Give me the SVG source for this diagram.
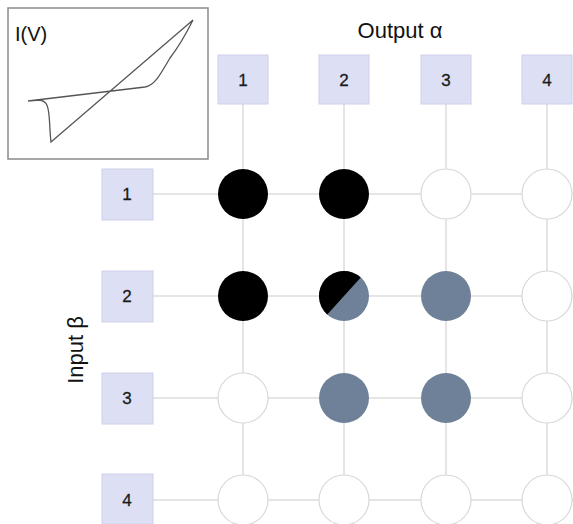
<svg xmlns="http://www.w3.org/2000/svg" width="573" height="524" viewBox="0 0 573 524">
<style>
.box{fill:#dde0f4;stroke:#cdd0e8;stroke-width:1}
.lbl{font-family:"Liberation Sans",Arial,sans-serif;font-size:17px;fill:#1a1a1a;text-anchor:middle;stroke:#1a1a1a;stroke-width:0.3}
.title{font-family:"Liberation Sans",Arial,sans-serif;font-size:22px;fill:#111;text-anchor:middle}
.grid{stroke:#dcdcdc;stroke-width:1.5;fill:none}
.off{fill:#fff;stroke:#d8d8d8;stroke-width:1.2}
.on{fill:#000}
.mid{fill:#6e8198}
</style>
<rect width="573" height="524" fill="#fff"/>
<g id="iv-plot">
<rect x="8" y="8" width="200" height="151" fill="#fff" stroke="#8a8a8a" stroke-width="1.5"/>
<text x="15" y="41" font-family="Liberation Sans,Arial,sans-serif" font-size="20" fill="#111">I(V)</text>
<path d="M28,101 L39,100 C47,101 48,106 49,115 C50,125 50,135 51,142 L193,20 C188,30 180,45 170,58 C160,75 155,85 145,87 L28,101" fill="none" stroke="#555" stroke-width="1.3"/>
</g>
<g id="connectors">
<line class="grid" x1="153" y1="194" x2="573" y2="194"/>
<line class="grid" x1="153" y1="296" x2="573" y2="296"/>
<line class="grid" x1="153" y1="398" x2="573" y2="398"/>
<line class="grid" x1="153" y1="500" x2="573" y2="500"/>
<line class="grid" x1="243" y1="104" x2="243" y2="524"/>
<line class="grid" x1="344" y1="104" x2="344" y2="524"/>
<line class="grid" x1="446" y1="104" x2="446" y2="524"/>
<line class="grid" x1="547" y1="104" x2="547" y2="524"/>
</g>
<text class="title" x="400" y="38">Output α</text>
<text class="title" transform="translate(83,350) rotate(-90)" font-size="23">Input β</text>
<g id="out1"><rect class="box" x="218" y="55" width="50" height="49"/><text class="lbl" x="243" y="86">1</text></g>
<g id="out2"><rect class="box" x="319" y="55" width="50" height="49"/><text class="lbl" x="344" y="86">2</text></g>
<g id="out3"><rect class="box" x="421" y="55" width="50" height="49"/><text class="lbl" x="446" y="86">3</text></g>
<g id="out4"><rect class="box" x="522" y="55" width="50" height="49"/><text class="lbl" x="547" y="86">4</text></g>
<g id="in1"><rect class="box" x="102" y="169" width="51" height="51"/><text class="lbl" x="127" y="200">1</text></g>
<g id="in2"><rect class="box" x="102" y="271" width="51" height="51"/><text class="lbl" x="127" y="302">2</text></g>
<g id="in3"><rect class="box" x="102" y="373" width="51" height="51"/><text class="lbl" x="127" y="404">3</text></g>
<g id="in4"><rect class="box" x="102" y="474" width="51" height="50"/><text class="lbl" x="127" y="506">4</text></g>
<g id="c11"><circle class="on" cx="243" cy="194" r="25"/></g>
<g id="c12"><circle class="on" cx="344" cy="194" r="25"/></g>
<g id="c13"><circle class="off" cx="446" cy="194" r="25"/></g>
<g id="c14"><circle class="off" cx="547" cy="194" r="25"/></g>
<g id="c21"><circle class="on" cx="243" cy="296" r="25"/></g>
<g id="c22">
<circle class="mid" cx="344" cy="296" r="25"/>
<path class="on" d="M326.3,313.7 A25,25 0 0 1 361.7,278.3 Z" transform="rotate(-3 344 296)"/>
</g>
<g id="c23"><circle class="mid" cx="446" cy="296" r="25"/></g>
<g id="c24"><circle class="off" cx="547" cy="296" r="25"/></g>
<g id="c31"><circle class="off" cx="243" cy="398" r="25"/></g>
<g id="c32"><circle class="mid" cx="344" cy="398" r="25"/></g>
<g id="c33"><circle class="mid" cx="446" cy="398" r="25"/></g>
<g id="c34"><circle class="off" cx="547" cy="398" r="25"/></g>
<g id="c41"><circle class="off" cx="243" cy="500" r="25"/></g>
<g id="c42"><circle class="off" cx="344" cy="500" r="25"/></g>
<g id="c43"><circle class="off" cx="446" cy="500" r="25"/></g>
<g id="c44"><circle class="off" cx="547" cy="500" r="25"/></g>
</svg>
